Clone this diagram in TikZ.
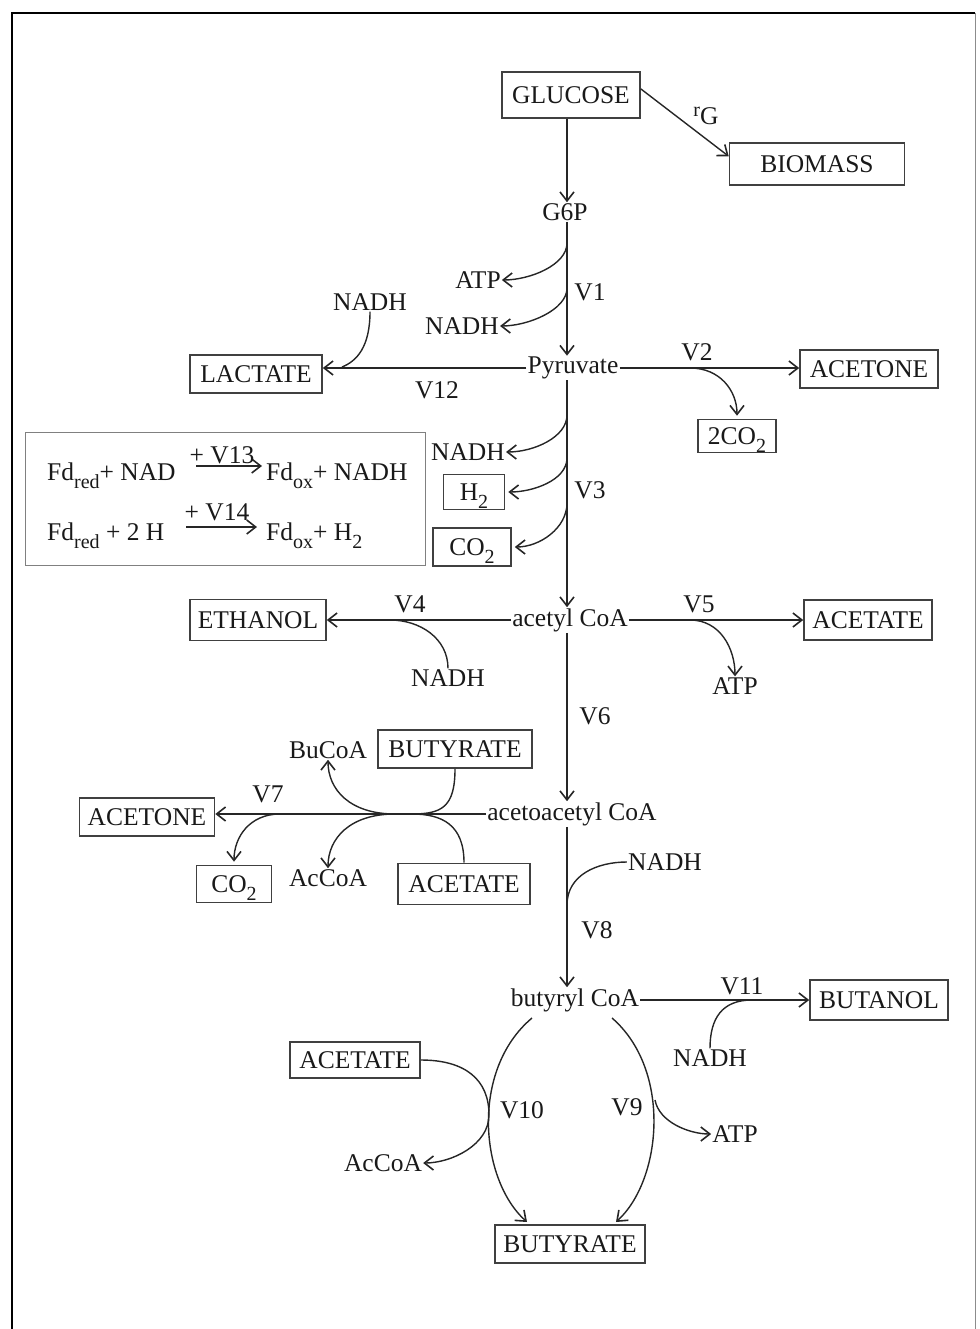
\documentclass[tikz,border=0pt]{standalone}
\usepackage{fontspec}
\setmainfont{Liberation Serif}
\usetikzlibrary{arrows.meta}
\newcommand\sbs[1]{\raisebox{-8pt}{\fontsize{20}{20}\selectfont #1}}
\begin{document}
\begin{tikzpicture}[x=1pt,y=-1pt,
  every node/.style={font=\fontsize{25.5}{28}\selectfont, inner sep=1pt, text=black!90},
  box/.style={draw=black!75, line width=1.6pt, inner sep=0pt, text height=17pt, text depth=0pt},
  arr/.style={-{Straight Barb[length=9pt,width=14pt,line width=1.6pt]}, line width=1.4pt, black!85},
  ln/.style={line width=1.4pt, black!85}]
\useasboundingbox (0,0) rectangle (979,1329);
% frame
\draw[line width=2.5pt] (12,1329) -- (12,13) -- (975,13);
\draw[line width=1pt, black!45] (975,13) -- (975,1329);
\coordinate (x0) at (567,0);
% top
\node[box,minimum width=138pt,minimum height=46pt] (glucose) at (571,95) {GLUCOSE};
\node[box,minimum width=175pt,minimum height=42pt] (biomass) at (817,164) {BIOMASS};
\node (rg) at (706,116) {\raisebox{8pt}{\fontsize{20}{20}\selectfont r}G};
\draw[arr] (glucose.5) -- (biomass.175);
\node (g6p) at (565,212) {G6P};
\draw[arr] (glucose.south -| x0) -- (g6p.north -| x0);
\node (pyr) at (573,368) {Pyruvate};
\draw[arr] (g6p.south -| x0) -- (pyr.north -| x0);
% V1 branch
\node (atp1) at (478,280) {ATP};
\node (nadh1) at (462,326) {NADH};
\node (v1) at (590,292) {V1};
\coordinate (b1) at (567,243);
\coordinate (b2) at (567,288);
\draw[arr] (b1) .. controls +(0,22) and +(28,0) .. (atp1.east);
\draw[arr] (b2) .. controls +(0,22) and +(28,0) .. (nadh1.east);
% lactate
\node[box,minimum width=132pt,minimum height=38pt] (lactate) at (256,374) {LACTATE};
\draw[arr] (pyr.west) -- (pyr.west -| lactate.east);
\node (nadhL) at (370,302) {NADH};
\coordinate (mL) at (342,367);
\draw[ln] (nadhL.south) .. controls +(0,35) and +(15,-6) .. (mL);
\node (v12) at (437,390) {V12};
% acetone 1
\node[box,minimum width=138pt,minimum height=38pt] (acetone1) at (869,369) {ACETONE};
\draw[arr] (pyr.east) -- (pyr.east -| acetone1.west);
\node (v2) at (697,352) {V2};
\node[box,minimum width=78pt,minimum height=33pt] (co2a) at (737,436) {2CO\sbs{2}};
\coordinate (b3) at (690,368);
\draw[arr,shorten >=3pt] (b3) .. controls +(30,0) and +(0,-28) .. (co2a.north);
% V3 branch
\node (acetyl) at (570,620) {acetyl CoA};
\draw[arr] (pyr.south -| x0) -- (acetyl.north -| x0);
\node (nadh2) at (468,452) {NADH};
\node[box,minimum width=61pt,minimum height=35pt] (h2) at (474,492) {H\sbs{2}};
\node[box,minimum width=78pt,minimum height=38pt] (co2b) at (472,547) {CO\sbs{2}};
\node (v3) at (590,490) {V3};
\coordinate (b4) at (567,415);
\coordinate (b5) at (567,458);
\coordinate (b6) at (567,503);
\draw[arr] (b4) .. controls +(0,22) and +(28,0) .. (nadh2.east);
\draw[arr,shorten >=3pt] (b5) .. controls +(0,22) and +(28,0) .. (h2.east);
\draw[arr,shorten >=3pt] (b6) .. controls +(0,25) and +(28,0) .. (co2b.east);
% Fd box
\node[draw=black!50, line width=0.8pt, minimum width=400pt, minimum height=133pt] (fdbox) at (225,498.5) {};
\node[anchor=base west] (e1l) at (46,480) {Fd\sbs{red}+ NAD};
\node[anchor=base west] (e1r) at (265,480) {Fd\sbs{ox}+ NADH};
\coordinate (a1s) at (196,466);
\coordinate (a1e) at (262,466);
\draw[arr] (a1s) -- (a1e);
\node (v13) at (222,455) {+ V13};
\node[anchor=base west] (e2l) at (46,540) {Fd\sbs{red} + 2 H};
\node[anchor=base west] (e2r) at (265,540) {Fd\sbs{ox}+ H\sbs{2}};
\coordinate (a2s) at (186,527);
\coordinate (a2e) at (257,527);
\draw[arr] (a2s) -- (a2e);
\node (v14) at (217,512) {+ V14};
% acetyl row
\node[box,minimum width=136pt,minimum height=41pt] (ethanol) at (258,620) {ETHANOL};
\draw[arr] (acetyl.west) -- (acetyl.west -| ethanol.east);
\node (v4) at (410,604) {V4};
\node (nadh3) at (448,678) {NADH};
\coordinate (m4) at (390,620);
\draw[ln] (nadh3.north) .. controls +(0,-30) and +(30,0) .. (m4);
\node[box,minimum width=128pt,minimum height=40pt] (acetate1) at (868,620) {ACETATE};
\draw[arr] (acetyl.east) -- (acetyl.east -| acetate1.west);
\node (v5) at (699,604) {V5};
\node (atp2) at (735,686) {ATP};
\coordinate (b7) at (690,620);
\draw[arr] (b7) .. controls +(30,0) and +(0,-28) .. (atp2.north);
\node (v6) at (595,716) {V6};
\node (acac) at (572,814) {acetoacetyl CoA};
\draw[arr] (acetyl.south -| x0) -- (acac.north -| x0);
% acetoacetyl row
\node[box,minimum width=135pt,minimum height=38pt] (acetone2) at (147,817) {ACETONE};
\draw[arr] (acac.west) -- (acac.west -| acetone2.east);
\node (v7) at (268,794) {V7};
\node (bucoa) at (328,750) {BuCoA};
\node[box,minimum width=154pt,minimum height=38pt] (butyrate1) at (455,749) {BUTYRATE};
\node[box,minimum width=75pt,minimum height=37pt] (co2c) at (234,884) {CO\sbs{2}};
\node (accoa1) at (328,878) {AcCoA};
\node[box,minimum width=132pt,minimum height=41pt] (acetate2) at (464,884) {ACETATE};
\coordinate (j1) at (412,814);
\coordinate (j2) at (395,814);
\coordinate (j3) at (280,814);
\draw[ln] (butyrate1.south) .. controls +(0,38) and +(30,0) .. (j1);
\draw[arr] (j2) .. controls +(-45,0) and +(0,30) .. (bucoa.south);
\draw[ln] (acetate2.north) .. controls +(0,-38) and +(30,0) .. (j1);
\draw[arr] (j2) .. controls +(-45,0) and +(0,-30) .. (accoa1.north);
\draw[arr,shorten >=3pt] (j3) .. controls +(-30,0) and +(0,-28) .. (co2c.north);
% to butyryl
\node (butyryl) at (575,1000) {butyryl CoA};
\draw[arr] (acac.south -| x0) -- (butyryl.north -| x0);
\node (nadh4) at (665,862) {NADH};
\coordinate (m5) at (567,905);
\draw[ln] (nadh4.west) .. controls +(-30,0) and +(0,-30) .. (m5);
\node (v8) at (597,930) {V8};
% butanol
\node[box,minimum width=138pt,minimum height=40pt] (butanol) at (879,1000) {BUTANOL};
\draw[arr] (butyryl.east) -- (butyryl.east -| butanol.west);
\node (v11) at (742,986) {V11};
\node (nadh5) at (710,1058) {NADH};
\coordinate (m6) at (752,1000);
\draw[ln] (nadh5.north) .. controls +(0,-30) and +(-30,0) .. (m6);
% arcs to butyrate
\node[box,minimum width=150pt,minimum height=38pt] (butyrate2) at (570,1244) {BUTYRATE};
\coordinate (s1) at (532,1018);
\coordinate (s2) at (612,1018);
\coordinate (t1) at (527,1222);
\coordinate (t2) at (616,1222);
\draw[arr] (s1) .. controls (470,1070) and (480,1180) .. (t1);
\draw[arr] (s2) .. controls (672,1070) and (662,1180) .. (t2);
\node (v10) at (522,1110) {V10};
\node (v9) at (627,1107) {V9};
\node[box,minimum width=130pt,minimum height=36pt] (acetate3) at (355,1060) {ACETATE};
\node (accoa2) at (383,1163) {AcCoA};
\coordinate (k1) at (489,1115);
\draw[arr] (acetate3.east) .. controls +(45,0) and +(0,-35) .. (k1) .. controls +(0,30) and +(28,0) .. (accoa2.east);
\node (atp3) at (735,1134) {ATP};
\coordinate (b8) at (655,1100);
\draw[arr] (b8) .. controls +(4,22) and +(-22,0) .. (atp3.west);
\end{tikzpicture}
\end{document}
